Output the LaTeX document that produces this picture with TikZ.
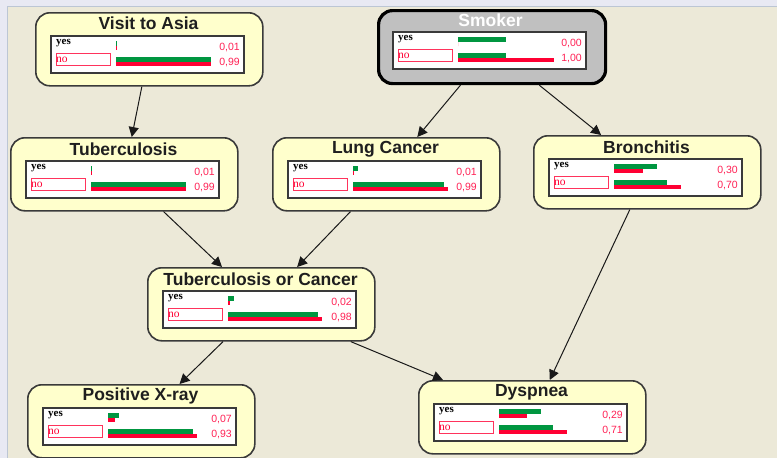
\documentclass[tikz,border=0pt]{standalone}
\usepackage{fontspec}
\setmainfont{Liberation Sans}
\newfontfamily\serifsmall{Liberation Serif}
\usetikzlibrary{arrows.meta}
\definecolor{bgc}{HTML}{ECE9D8}
\definecolor{stripc}{HTML}{E8E9F3}
\definecolor{stripline}{HTML}{BCC6D4}
\definecolor{nodefill}{HTML}{FFFFCC}
\definecolor{nodeedge}{HTML}{3A3A3A}
\definecolor{bargreen}{HTML}{009640}
\definecolor{barred}{HTML}{FF0033}
\definecolor{valred}{HTML}{FF2255}
\definecolor{smokerfill}{HTML}{C0C0C0}
\tikzset{
  bnbox/.style={rectangle, draw=nodeedge, line width=1.6pt, fill=nodefill, rounded corners=14pt,
    minimum width=227pt, minimum height=73pt, inner sep=0pt, anchor=north west},
  smokerbox/.style={bnbox, draw=black, line width=3.2pt, fill=smokerfill},
  titlelbl/.style={font=\bfseries\fontsize{17.5}{20}\selectfont, text=black!88, inner sep=0pt},
  whitetitle/.style={titlelbl, text=white},
  tablebox/.style={draw=nodeedge, line width=1.4pt, fill=white},
  yeslbl/.style={font=\serifsmall\bfseries\fontsize{11}{12}\selectfont, anchor=west, inner sep=0pt},
  nolbl/.style={font=\serifsmall\fontsize{11.5}{12}\selectfont, text=barred, anchor=west, inner sep=0pt},
  nobox/.style={draw=barred!80, line width=1pt},
  vallbl/.style={font=\fontsize{10.5}{11}\selectfont, text=valred, anchor=east, inner sep=0pt},
  bnedge/.style={draw=black!90, line width=1pt, -{Triangle[length=10pt,width=10pt]}},
}
% #1 X, #2 Y, #3 yesG, #4 yesR, #5 noG, #6 noR, #7 yes value, #8 no value, #9 prefix
\newcommand{\bntable}[9]{%
  \begin{scope}[shift={(#1,#2)}]
    \draw[tablebox] (16,24) rectangle (209,61);
    \node[yeslbl] (#9-yes) at (21,31.5) {yes};
    \draw[nobox] (21,41) rectangle (75,53);
    \node[nolbl] (#9-no) at (21,47.5) {no};
    \fill[bargreen] (81,29) rectangle ({81+#3*96},34);
    \fill[barred] (81,34) rectangle ({81+#4*96},38);
    \fill[bargreen] (81,44.5) rectangle ({81+#5*96},49.5);
    \fill[barred] (81,49.5) rectangle ({81+#6*96},54);
    \node[vallbl] (#9-vy) at (205,36) {#7};
    \node[vallbl] (#9-vn) at (205,51) {#8};
  \end{scope}}
\begin{document}
\begin{tikzpicture}[x=1pt,y=-1pt]
  \useasboundingbox (0,0) rectangle (777,458);
  \fill[bgc] (0,0) rectangle (777,458);
  \fill[stripc] (0,0) rectangle (777,6);
  \fill[stripc] (0,0) rectangle (7,458);
  \draw[stripline, line width=0.8pt] (7,6) -- (777,6);
  \draw[stripline, line width=0.8pt] (7,6) -- (7,458);

  % nodes
  \node[bnbox] (asia) at (35,12) {};
  \node[smokerbox] (smoke) at (377,9) {};
  \node[bnbox] (tub) at (10,137) {};
  \node[bnbox] (lung) at (272,137) {};
  \node[bnbox] (bronc) at (533,135) {};
  \node[bnbox] (either) at (147,267) {};
  \node[bnbox] (xray) at (27,384) {};
  \node[bnbox] (dysp) at (418,380) {};

  % titles
  \node[titlelbl] (asia-t) at (148.5,23) {Visit to Asia};
  \node[whitetitle] (smoke-t) at (490.5,20) {Smoker};
  \node[titlelbl] (tub-t) at (123.5,149) {Tuberculosis};
  \node[titlelbl] (lung-t) at (385.5,149) {Lung Cancer};
  \node[titlelbl] (bronc-t) at (646.5,147) {Bronchitis};
  \node[titlelbl] (either-t) at (260.5,279) {Tuberculosis or Cancer};
  \node[titlelbl] (xray-t) at (140.5,396) {Positive X-ray};
  \node[titlelbl] (dysp-t) at (531.5,392) {Dyspnea};

  % tables
  \bntable{35}{12}{0.011}{0.011}{0.99}{0.99}{0,01}{0,99}{asia}
  \bntable{377}{8}{0.5}{0}{0.5}{1.0}{0,00}{1,00}{smoke}
  \bntable{10}{137}{0.011}{0.011}{0.99}{0.99}{0,01}{0,99}{tub}
  \bntable{272}{137}{0.055}{0.011}{0.945}{0.99}{0,01}{0,99}{lung}
  \bntable{533}{135}{0.45}{0.30}{0.55}{0.70}{0,30}{0,70}{bronc}
  \bntable{147}{267}{0.065}{0.02}{0.935}{0.98}{0,02}{0,98}{either}
  \bntable{27}{384}{0.11}{0.07}{0.89}{0.93}{0,07}{0,93}{xray}
  \bntable{418}{380}{0.436}{0.29}{0.564}{0.71}{0,29}{0,71}{dysp}

  % edges
  \draw[bnedge] (asia) -- (tub);
  \draw[bnedge] (smoke) -- (lung);
  \draw[bnedge] (smoke) -- (bronc);
  \draw[bnedge] (tub) -- (either);
  \draw[bnedge] (lung) -- (either);
  \draw[bnedge] (bronc) -- (dysp);
  \draw[bnedge] (either) -- (xray);
  \draw[bnedge] (either) -- (dysp);
\end{tikzpicture}
\end{document}
